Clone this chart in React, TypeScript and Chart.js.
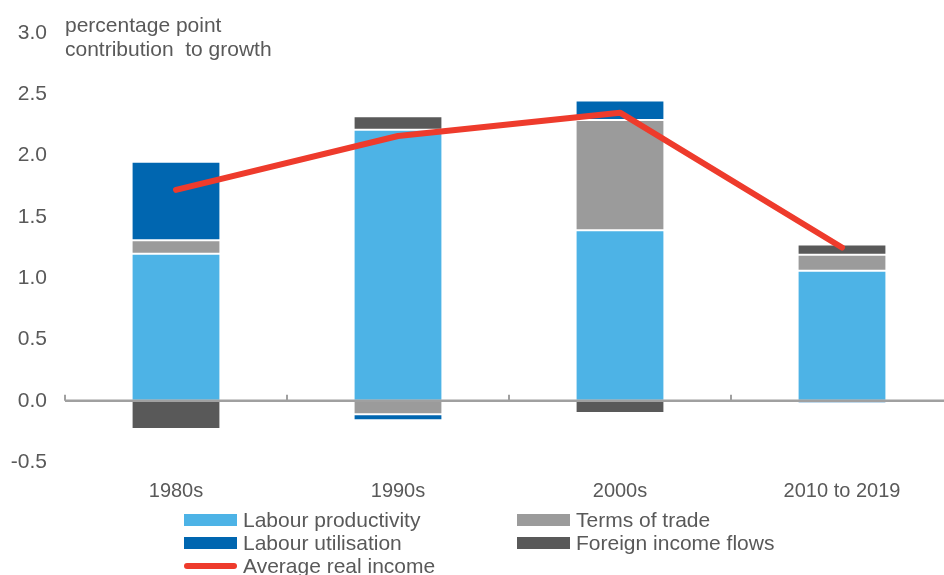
import React, { useEffect, useRef } from "react";
import { Chart, registerables } from "chart.js";

Chart.register(...registerables);

const categories = ["1980s", "1990s", "2000s", "2010 to 2019"];
const labourProductivity = [1.2, 2.21, 1.39, 1.06];
const termsOfTrade = [0.11, -0.11, 0.9, 0.13];
const labourUtilisation = [0.64, -0.05, 0.16, -0.02];
const foreignIncomeFlows = [-0.23, 0.11, -0.1, 0.085];
const averageRealIncome = [1.72, 2.16, 2.35, 1.25];
const yTitleLines = ["percentage point", "contribution  to growth"];

const FONT = "'Liberation Sans', Arial, sans-serif";
const TEXT = "#595959";
const C_LP = "#4DB3E6";
const C_LU = "#0066B0";
const C_TOT = "#9B9B9B";
const C_FI = "#595959";
const C_LINE = "#EE3B2C";

const zeroLinePlugin = {
  id: "zeroLine",
  afterDatasetsDraw(chart: any) {
    const { ctx, chartArea, scales } = chart;
    const y0 = scales.y.getPixelForValue(0);
    const xs = scales.x;
    ctx.save();
    ctx.strokeStyle = "#A0A0A0";
    ctx.lineWidth = 2.5;
    ctx.beginPath();
    ctx.moveTo(chartArea.left, y0);
    ctx.lineTo(chartArea.right, y0);
    ctx.stroke();
    ctx.lineWidth = 2;
    const bounds = [chartArea.left];
    for (let i = 1; i < categories.length; i++) {
      bounds.push((xs.getPixelForValue(i - 1) + xs.getPixelForValue(i)) / 2);
    }
    bounds.forEach((bx) => {
      ctx.beginPath();
      ctx.moveTo(bx, y0);
      ctx.lineTo(bx, y0 - 6);
      ctx.stroke();
    });
    ctx.restore();
  },
};

export default function App() {
  const ref = useRef<HTMLCanvasElement | null>(null);

  useEffect(() => {
    if (!ref.current) return;
    const barCommon = {
      type: "bar" as const,
      stack: "bars",
      borderWidth: 1,
      borderColor: "rgba(255,255,255,0.55)",
      borderSkipped: false as const,
      categoryPercentage: 1,
      barPercentage: 0.4,
    };
    const chart = new Chart(ref.current, {
      type: "bar",
      data: {
        labels: categories,
        datasets: [
          {
            type: "line",
            label: "Average real income",
            data: averageRealIncome,
            stack: "line",
            borderColor: C_LINE,
            backgroundColor: C_LINE,
            borderWidth: 6,
            pointRadius: 0,
            borderCapStyle: "round",
            borderJoinStyle: "round",
            tension: 0,
          } as any,
          { ...barCommon, label: "Labour productivity", data: labourProductivity, backgroundColor: C_LP },
          { ...barCommon, label: "Terms of trade", data: termsOfTrade, backgroundColor: C_TOT },
          { ...barCommon, label: "Labour utilisation", data: labourUtilisation, backgroundColor: C_LU },
          { ...barCommon, label: "Foreign income flows", data: foreignIncomeFlows, backgroundColor: C_FI },
        ],
      },
      options: {
        animation: false,
        responsive: false,
        devicePixelRatio: 1,
        layout: { padding: { top: 33, right: 7, bottom: 0, left: 0 } },
        plugins: { legend: { display: false }, tooltip: { enabled: false } },
        scales: {
          x: {
            stacked: true,
            grid: { display: false, drawTicks: false },
            border: { display: false },
            ticks: { color: TEXT, font: { family: FONT, size: 20 }, padding: 17, maxRotation: 0 },
            afterFit: (s: any) => {
              s.height = 113;
            },
          },
          y: {
            stacked: true,
            min: -0.5,
            max: 3.0,
            grid: { display: false, drawTicks: false },
            border: { display: false },
            ticks: {
              stepSize: 0.5,
              color: TEXT,
              font: { family: FONT, size: 21 },
              padding: 18,
              callback: (v: any) => Number(v).toFixed(1),
            },
            afterFit: (s: any) => {
              s.width = 65;
            },
          },
        },
      },
      plugins: [zeroLinePlugin],
    });
    return () => chart.destroy();
  }, []);

  const textStyle: React.CSSProperties = {
    position: "absolute",
    fontFamily: FONT,
    fontSize: 21,
    color: TEXT,
    whiteSpace: "pre",
    lineHeight: "23px",
  };
  const legendItems = [
    { label: "Labour productivity", color: C_LP, x: 184, y: 520, line: false },
    { label: "Terms of trade", color: C_TOT, x: 517, y: 520, line: false },
    { label: "Labour utilisation", color: C_LU, x: 184, y: 543, line: false },
    { label: "Foreign income flows", color: C_FI, x: 517, y: 543, line: false },
    { label: "Average real income", color: C_LINE, x: 184, y: 566, line: true },
  ];

  return (
    <div
      style={{
        position: "fixed",
        left: 0,
        top: 0,
        width: 944,
        height: 575,
        overflow: "hidden",
        background: "#fff",
      }}
    >
      <canvas ref={ref} width={960} height={575} style={{ width: 960, height: 575, display: "block" }} />
      {yTitleLines.map((t, i) => (
        <div key={t} style={{ ...textStyle, left: 65, top: 13 + i * 24, lineHeight: "24px" }}>
          {t}
        </div>
      ))}
      {legendItems.map((it) => (
        <div key={it.label}>
          <div
            style={{
              position: "absolute",
              left: it.x,
              top: it.line ? it.y - 3 : it.y - 6,
              width: 53,
              height: it.line ? 6 : 12,
              borderRadius: it.line ? 3 : 0,
              background: it.color,
            }}
          />
          <div style={{ ...textStyle, left: it.x + 59, top: it.y - 12 }}>{it.label}</div>
        </div>
      ))}
    </div>
  );
}
